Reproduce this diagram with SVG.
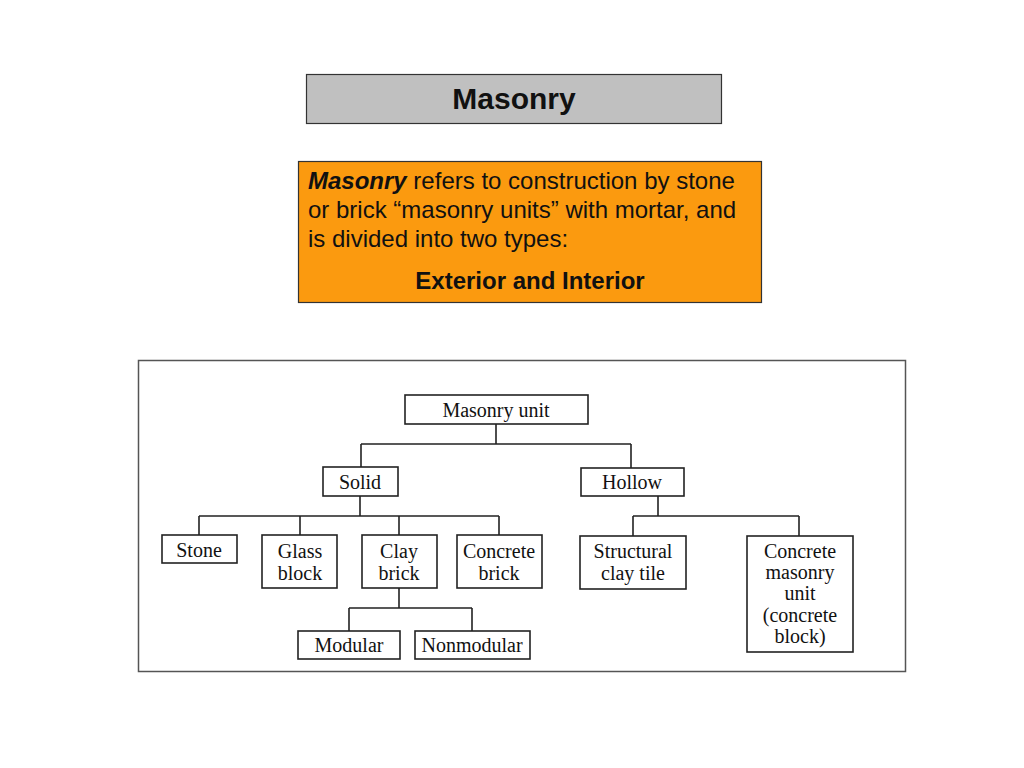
<svg xmlns="http://www.w3.org/2000/svg" width="1024" height="768" viewBox="0 0 1024 768">
<style>
.n rect{fill:#fff;stroke:#222;stroke-width:1.6}
.n text{font-family:"Liberation Serif","Times New Roman",serif;font-size:20px;fill:#111;text-anchor:middle}
.c path{fill:none;stroke:#222;stroke-width:1.6}
.s{font-family:"Liberation Sans",Arial,sans-serif;fill:#111}
</style>
<rect width="1024" height="768" fill="#fff"/>
<g id="title">
<rect x="306.5" y="74.5" width="415" height="49" fill="#c0c0c0" stroke="#333" stroke-width="1.2"/>
<text class="s" x="514" y="109" font-size="30" font-weight="bold" text-anchor="middle">Masonry</text>
</g>
<g id="definition">
<rect x="298.5" y="161.5" width="463" height="141" fill="#fb9a0f" stroke="#333" stroke-width="1.2"/>
<text class="s" font-size="24" x="308" y="189"><tspan font-weight="bold" font-style="italic">Masonry</tspan> refers to construction by stone</text>
<text class="s" font-size="24" x="308" y="218">or brick “masonry units” with mortar, and</text>
<text class="s" font-size="24" x="308" y="247">is divided into two types:</text>
<text class="s" font-size="24" font-weight="bold" x="530" y="289" text-anchor="middle">Exterior and Interior</text>
</g>
<g id="frame">
<rect x="138.5" y="360.5" width="767" height="311" fill="#fff" stroke="#555" stroke-width="1.5"/>
</g>
<g class="c" id="connectors">
<path d="M496 424V444M361 444H631M361 444V467M631 444V468"/>
<path d="M360 496V516M199 516H499M199 516V535M300 516V535M399 516V535M499 516V535"/>
<path d="M399 588V608M349 608H472M349 608V631M472 608V631"/>
<path d="M658 496V516M633 516H799M633 516V536M799 516V536"/>
</g>
<g class="n" id="masonry-unit"><rect x="405" y="395" width="183" height="29"/><text x="496" y="417">Masonry unit</text></g>
<g class="n" id="solid"><rect x="323" y="467" width="75" height="29"/><text x="360" y="489">Solid</text></g>
<g class="n" id="hollow"><rect x="581" y="468" width="103" height="28"/><text x="632" y="489">Hollow</text></g>
<g class="n" id="stone"><rect x="162" y="535" width="75" height="28"/><text x="199" y="557">Stone</text></g>
<g class="n" id="glass-block"><rect x="262" y="535" width="75" height="53"/><text x="300" y="558">Glass</text><text x="300" y="580">block</text></g>
<g class="n" id="clay-brick"><rect x="362" y="535" width="75" height="53"/><text x="399" y="558">Clay</text><text x="399" y="580">brick</text></g>
<g class="n" id="concrete-brick"><rect x="457" y="535" width="85" height="53"/><text x="499" y="558">Concrete</text><text x="499" y="580">brick</text></g>
<g class="n" id="modular"><rect x="298" y="631" width="102" height="28"/><text x="349" y="652">Modular</text></g>
<g class="n" id="nonmodular"><rect x="415" y="631" width="115" height="28"/><text x="472" y="652">Nonmodular</text></g>
<g class="n" id="structural-clay-tile"><rect x="580" y="536" width="106" height="53"/><text x="633" y="558">Structural</text><text x="633" y="580">clay tile</text></g>
<g class="n" id="concrete-masonry-unit"><rect x="747" y="536" width="106" height="116"/><text x="800" y="558">Concrete</text><text x="800" y="579">masonry</text><text x="800" y="600">unit</text><text x="800" y="622">(concrete</text><text x="800" y="643">block)</text></g>
</svg>
